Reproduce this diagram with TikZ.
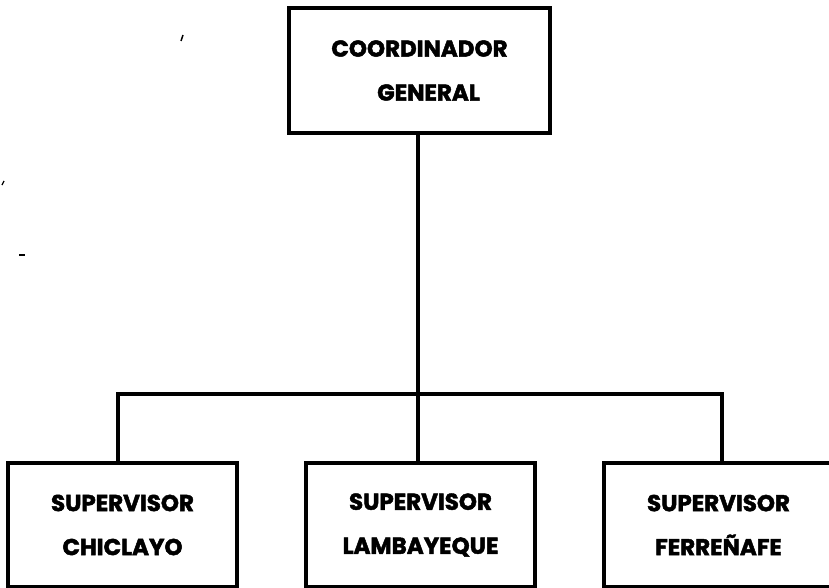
\documentclass[tikz,border=0pt]{standalone}
\usepackage{fontspec}
\setsansfont{Poppins}[BoldFeatures={FakeBold=2}]
\usetikzlibrary{positioning}
\tikzset{unitbox/.style={draw=black,line width=3.2pt,inner sep=0pt,minimum height=124pt,
    align=center,font=\sffamily\bfseries\fontsize{23}{44}\selectfont}}
\tikzset{orgline/.style={black,line width=3.2pt}}

\begin{document}
\begin{tikzpicture}[x=1pt,y=1pt]

  \useasboundingbox (0,0) rectangle (829,-588);
  \fill[white] (0,0) rectangle (829,-588);

  \node[unitbox,minimum width=261pt,minimum height=125pt] (coord) at (419.5,-70.5) {COORDINADOR\\ \hspace*{18pt}GENERAL};

  \node[unitbox,minimum width=229pt] (chic) at (122.5,-525) {SUPERVISOR\\CHICLAYO};
  \node[unitbox,minimum width=229pt] (lamb) at (420.5,-525) {SUPERVISOR\\LAMBAYEQUE};
  \node[unitbox,minimum width=229pt] (ferr) at (718.5,-525) {SUPERVISOR\\FERRE\~NAFE};

  \coordinate (bus) at (418,-394);

  \draw[orgline] (coord.south -| bus) -- (bus);
  \draw[orgline] ([xshift=-4.5pt]chic.north) |- (bus) -| ([xshift=3.5pt]ferr.north);
  \draw[orgline] (bus) -- (bus |- lamb.north);

  % marks of the scan
  \draw[line width=1.5pt] (181,-41) -- (183,-35);
  \draw[line width=1.2pt] (2,-185) -- (4,-181);
  \draw[line width=2.5pt] (19,-255) -- (25,-255);

\end{tikzpicture}
\end{document}
